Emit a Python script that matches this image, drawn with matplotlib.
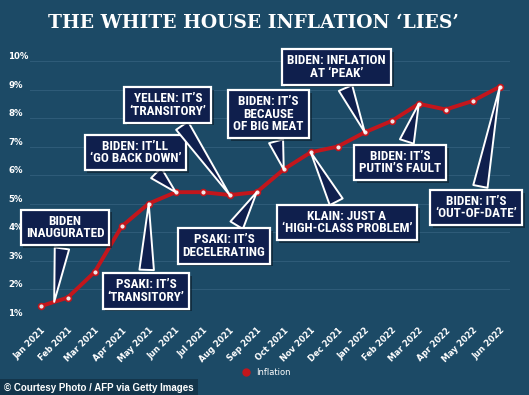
import matplotlib
matplotlib.use("Agg")
import matplotlib.pyplot as plt
import matplotlib.patheffects as pe
from matplotlib.lines import Line2D

# Data
months = ["Jan 2021", "Feb 2021", "Mar 2021", "Apr 2021", "May 2021", "Jun 2021",
          "Jul 2021", "Aug 2021", "Sep 2021", "Oct 2021", "Nov 2021", "Dec 2021",
          "Jan 2022", "Feb 2022", "Mar 2022", "Apr 2022", "May 2022", "Jun 2022"]
inflation = [1.4, 1.7, 2.6, 4.2, 5.0, 5.4, 5.4, 5.3, 5.4, 6.2, 6.8, 7.0,
             7.5, 7.9, 8.5, 8.3, 8.6, 9.1]
yticks = [1, 2, 3, 4, 5, 6, 7, 8, 9, 10]

# Callouts: text, month pointed at, box centre (month index, %)
callout_text = ["BIDEN\nINAUGURATED", "PSAKI: IT\u2019S\n\u2018TRANSITORY\u2019",
                "BIDEN: IT\u2019LL\n\u2018GO BACK DOWN\u2019",
                "YELLEN: IT\u2019S\n\u2018TRANSITORY\u2019", "PSAKI: IT\u2019S\nDECELERATING",
                "BIDEN: IT\u2019S\nBECAUSE\nOF BIG MEAT", "BIDEN: INFLATION\nAT \u2018PEAK\u2019",
                "KLAIN: JUST A\n\u2018HIGH-CLASS PROBLEM\u2019", "BIDEN: IT\u2019S\nPUTIN\u2019S FAULT",
                "BIDEN: IT\u2019S\n\u2018OUT-OF-DATE\u2019"]
callout_month = [0.5, 4, 5, 7, 8, 9, 12, 10, 14, 17]
callout_box = [(0.90, 4.17), (3.90, 1.93), (3.51, 6.79), (4.71, 8.46), (6.79, 3.51),
               (8.44, 8.14), (10.95, 9.79), (11.34, 4.33), (13.31, 6.44), (16.13, 4.86)]

bg = "#1c4a66"
navy = "#0f1f4d"
red = "#c3161c"
box_font = ["Roboto Condensed", "Roboto", "DejaVu Sans"]

fig = plt.figure(figsize=(5.29, 3.95), dpi=100, facecolor=bg)
ax = fig.add_axes([0.0567, 0.196, 0.907, 0.6494], facecolor=bg)

x = list(range(len(months)))
ax.plot(x, inflation, color=red, lw=2.8, marker="o", ms=4.2, mfc="#f2e6e6",
        mec=red, mew=1.2, zorder=3, clip_on=False)

ax.set_xlim(-0.396, 17.37)
ax.set_ylim(1, 10)
ax.set_yticks(yticks)
ax.set_yticklabels([f"{v}%" for v in yticks])
ax.set_xticks(x)
ax.set_xticklabels(months)
ax.grid(axis="y", color="#2e5b78", lw=0.8)
for s in ax.spines.values():
    s.set_visible(False)
ax.tick_params(axis="y", length=0, pad=15.5, labelcolor="white", labelsize=6.2)
ax.tick_params(axis="x", length=0, pad=6, labelcolor="white", labelsize=6)
for lab in ax.get_yticklabels():
    lab.set_ha("left")
    lab.set_va("bottom")
    lab.set_fontweight("bold")
for lab in ax.get_xticklabels():
    lab.set_rotation(45)
    lab.set_ha("right")
    lab.set_va("top")
    lab.set_rotation_mode("anchor")
    lab.set_fontweight("bold")

# Callout boxes with wedge pointers
shadow = [pe.SimplePatchShadow(offset=(2, -2), shadow_rgbFace="#0a1a28", alpha=0.6), pe.Normal()]
for txt, m, (bx, by) in zip(callout_text, callout_month, callout_box):
    lo = int(m)
    hi = min(lo + 1, len(inflation) - 1)
    yv = inflation[lo] + (inflation[hi] - inflation[lo]) * (m - lo)
    ann = ax.annotate(txt, xy=(m, yv), xytext=(bx, by), ha="center", va="center",
                      color="white", fontsize=9.5, fontweight="bold", family=box_font,
                      linespacing=0.92, zorder=5, annotation_clip=False,
                      bbox=dict(boxstyle="square,pad=0.38", fc=navy, ec="white", lw=1.6),
                      arrowprops=dict(arrowstyle="wedge,tail_width=1.1,shrink_factor=0.5",
                                      fc=navy, ec="white", lw=1.4, shrinkB=0))
    ann.get_bbox_patch().set_path_effects(shadow)

# Title
fig.text(0.48, 0.943, "THE WHITE HOUSE INFLATION \u2018LIES\u2019", ha="center", va="center",
         color="white", fontsize=13.5, fontweight="bold", family="DejaVu Serif")

# Legend
handle = Line2D([], [], marker="o", color=red, linestyle="None", ms=5)
fig.legend([handle], ["Inflation"], loc="center", bbox_to_anchor=(0.5, 0.056),
           frameon=False, labelcolor="white", fontsize=6, handletextpad=0.2)

# Footer credit
fig.text(0.008, 0.018, "\u00a9 Courtesy Photo / AFP via Getty Images", ha="left", va="center",
         color="white", fontsize=7, fontweight="bold", family="Liberation Sans",
         bbox=dict(boxstyle="square,pad=0.4", fc="#123349", ec="none", alpha=0.9))

fig.savefig("out.png", dpi=100, facecolor=bg)
